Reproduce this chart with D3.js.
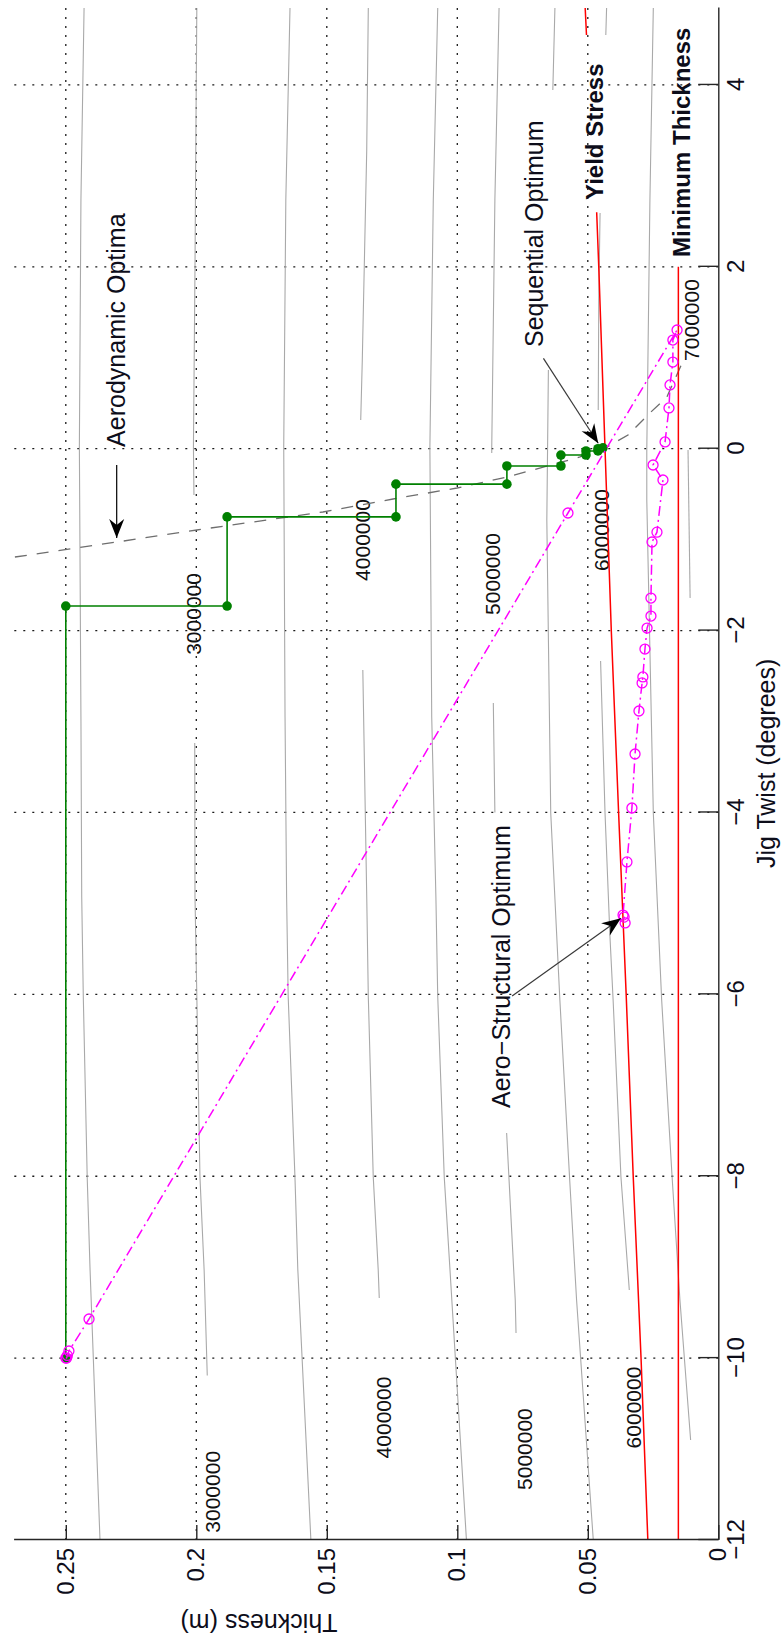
<!DOCTYPE html>
<html><head><meta charset="utf-8">
<script src="https://cdn.jsdelivr.net/npm/d3@7"></script>
<style>
html,body{margin:0;padding:0;background:#fff;}
svg{display:block;font-family:"Liberation Sans",Arial,Helvetica,sans-serif;}
</style></head><body>
<svg id="chart" width="783" height="1641"></svg>
<script>
// ---------- axis ticks ----------
const twistDomain = [-12, 4.846];
const thickDomain = [0, 0.27];
const twistTicks = [-12, -10, -8, -6, -4, -2, 0, 2, 4];
const twistTickLabels = ["\u221212", "\u221210", "\u22128", "\u22126", "\u22124", "\u22122", "0", "2", "4"];
const thickTicks = [0, 0.05, 0.1, 0.15, 0.2, 0.25];
const thickTickLabels = ["0", "0.05", "0.1", "0.15", "0.2", "0.25"];

// ---------- objective contours: [jig twist, thickness], null = break ----------
const contourA = [[4.846,0.2430],[2.735,0.2442],[0.019,0.2448],[-2.95,0.2442],[-4.93,0.2439],[-6.02,0.2433],[-8.01,0.2418],[-9.03,0.2407],[-12,0.2369]];
const contourB = [[4.846,0.1998],[3.285,0.2002],[1.998,0.2005],[0.019,0.2011],[-0.51,0.2009],null,[-3.236,0.2006],[-4.93,0.2005],[-6.02,0.1998],[-8.01,0.1986],[-9.03,0.1970],[-10.19,0.1958]];
const contourC = [[4.846,0.1641],[2.735,0.1657],[0.019,0.1665],[-2.95,0.1660],[-4.93,0.1654],[-6.02,0.1648],[-8.01,0.1622],[-9.03,0.1611],[-12,0.1561]];
const contourD = [[4.846,0.1341],[3.285,0.1347],[0.975,0.1364],[0.316,0.1370],null,[-2.433,0.1362],[-4.93,0.1347],[-6.02,0.1341],[-8.01,0.1322],[-9.03,0.1303],[-9.34,0.1299]];
const contourE = [[4.846,0.1075],[2.735,0.1092],[0.019,0.1105],[-2.95,0.1098],[-4.93,0.1082],[-6.02,0.1075],[-8.01,0.1050],[-9.03,0.1028],[-12,0.0965]];
const contourF = [[4.846,0.0840],[2.735,0.0856],[0.019,0.0868],[-0.047,0.0868],null,[-2.796,0.0862],[-4.0,0.0856],null,[-7.524,0.0811],[-9.361,0.0778],[-9.724,0.0775]];
const contourG = [[4.846,0.0626],[3.944,0.0634],null,[0.866,0.0651],[-0.784,0.0657],[-4.006,0.0642],[-6.062,0.0607],[-8.008,0.0570],[-9.361,0.0543],[-12,0.0479]];
const contourH = [[4.846,0.0428],[4.549,0.0431],null,[2.592,0.0453],[1.635,0.0458],[0.426,0.0460],null,[-2.334,0.0451],[-4.006,0.0434],[-5.369,0.0415],[-6.062,0.0403],[-8.008,0.0373],[-9.251,0.0341]];
const contourI = [[4.846,0.0249],[2.735,0.0262],[-0.014,0.0274],[-0.564,0.0274],[-4.006,0.0249],[-6.062,0.0217],[-8.008,0.0177],[-9.361,0.0147],[-10.900,0.0106]];
const contourJ = [[-0.014,0.0116],[-1.641,0.0108]];
const contourLabelText = ["3000000","3000000","4000000","4000000","5000000","5000000","6000000","6000000","7000000"];
const contourLabelTwist = [-1.817, -11.47, -1.004, -10.653, -1.378, -11.0, -0.894, -10.543, 1.415];
const contourLabelThick = [0.2011, 0.1938, 0.1364, 0.1284, 0.0865, 0.0741, 0.0449, 0.0325, 0.0103];

// ---------- constraints ----------
const yieldStress = [[-12,0.0270],[-10,0.0296],[-8,0.0326],[-6,0.0353],[-4,0.0382],[-2,0.0410],[0,0.0434],[2,0.0458],[2.6,0.0466],null,[4.55,0.0505],[4.846,0.0510]];
const minThickness = [[-12,0.0153],[2,0.0153]];

// ---------- aerodynamic optima (dashed) ----------
const aeroOptima = [[-1.191,0.2695],[-1.026,0.2304],[-0.894,0.1998],[-0.696,0.1515],[-0.553,0.1246],[-0.432,0.1001],[-0.311,0.0809],[-0.091,0.0530],[0.019,0.0426],[0.151,0.0346],[0.393,0.0262],[0.569,0.0197],[0.965,0.0135]];

// ---------- sequential optimisation path ----------
const seqTwist = [-10.0, -1.73, -1.73, -0.75, -0.75, -0.39, -0.39, -0.19, -0.19, -0.07, -0.07, -0.025, -0.025, 0.0, 0.01];
const seqThick = [0.2500, 0.2500, 0.1882, 0.1882, 0.1235, 0.1235, 0.0810, 0.0810, 0.0603, 0.0603, 0.0507, 0.0507, 0.0461, 0.0461, 0.0442];

// ---------- aero-structural optimisation path ----------
const asTwist = [-10.0, -10.0, -9.97, -9.922, -9.570, -0.707, 1.305, 1.195, 0.953, 0.701, 0.448, 0.074, -0.179, -0.344, -0.918, -1.026, -1.642, -1.840, -1.972, -2.203, -2.510, -2.576, -2.884, -3.357, -3.951, -4.544, -5.128, -5.15, -5.215];
const asThick = [0.2500, 0.2497, 0.2494, 0.2488, 0.2411, 0.0576, 0.0158, 0.0174, 0.0174, 0.0185, 0.0189, 0.0204, 0.0250, 0.0212, 0.0235, 0.0254, 0.0258, 0.0258, 0.0273, 0.0281, 0.0289, 0.0292, 0.0304, 0.0319, 0.0331, 0.0350, 0.0365, 0.0361, 0.0357];

// ---------- annotations ----------
const annoText = ["Aerodynamic Optima", "Sequential Optimum", "Aero\u2212Structural Optimum", "Yield Stress", "Minimum Thickness"];
const annoTwist = [0.02, 1.118, -7.25, 2.735, 2.108];
const annoThick = [0.2273, 0.0672, 0.0798, 0.0442, 0.0108];
const annoBold = [false, false, false, true, true];
const arrowFrom = [[-0.179,0.2305],[0.994,0.0670],[-6.018,0.0790]];
const arrowTo = [[-0.982,0.2305],[0.060,0.0460],[-5.164,0.0373]];

// =========================================================
const W = 1641, H = 783;   // inner (unrotated) frame
const svg = d3.select("#chart");
const defs = svg.append("defs");
defs.append("marker").attr("id","ah")
  .attr("viewBox","-20 -10 22 20").attr("refX",0).attr("refY",0)
  .attr("markerWidth",22).attr("markerHeight",20)
  .attr("markerUnits","userSpaceOnUse").attr("orient","auto")
  .append("path").attr("d","M0,0L-19,-7.5L-13,0L-19,7.5Z").attr("fill","#000");

const root = svg.append("g").attr("transform", `translate(0,${W}) rotate(-90)`);

const x = d3.scaleLinear().domain(twistDomain).range([101, 1633]);
const y = d3.scaleLinear().domain(thickDomain).range([718.3, 13.6]);

const line = d3.line().defined(d => d).x(d => x(d[0])).y(d => y(d[1]));

// grid
const grid = root.append("g").attr("stroke","#1a1a1a").attr("stroke-width",1.3).attr("stroke-dasharray","2,7");
grid.selectAll("line.gx").data(twistTicks.filter(d => d !== -12)).join("line")
  .attr("x1", d => x(d)).attr("x2", d => x(d)).attr("y1", y(thickDomain[0])).attr("y2", y(thickDomain[1]));
grid.selectAll("line.gy").data(thickTicks.filter(d => d !== 0)).join("line")
  .attr("x1", x(twistDomain[0])).attr("x2", x(twistDomain[1])).attr("y1", d => y(d)).attr("y2", d => y(d));

// contours
const contours = [contourA, contourB, contourC, contourD, contourE, contourF, contourG, contourH, contourI, contourJ];
root.append("g").selectAll("path").data(contours).join("path")
  .attr("d", line).attr("fill","none").attr("stroke","#a9a9a9").attr("stroke-width",1.1);
root.append("g").selectAll("text").data(contourLabelText).join("text")
  .attr("x", (d,i) => x(contourLabelTwist[i])).attr("y", (d,i) => y(contourLabelThick[i]))
  .attr("text-anchor","middle").attr("dominant-baseline","central")
  .attr("font-size",21).attr("fill","#111").text(d => d);

// aerodynamic optima dashed
root.append("path").attr("d", line(aeroOptima)).attr("fill","none")
  .attr("stroke","#6e6e6e").attr("stroke-width",1.3).attr("stroke-dasharray","12,10");

// constraints
root.append("path").attr("d", line(yieldStress)).attr("fill","none").attr("stroke","#ff0000").attr("stroke-width",1.5);
root.append("path").attr("d", line(minThickness)).attr("fill","none").attr("stroke","#ff0000").attr("stroke-width",1.5);

// sequential path
const seqPts = seqTwist.map((t,i) => [t, seqThick[i]]);
root.append("path").attr("d", line(seqPts)).attr("fill","none").attr("stroke","#008000").attr("stroke-width",1.6);
root.append("g").selectAll("circle").data(seqPts).join("circle")
  .attr("cx", d => x(d[0])).attr("cy", d => y(d[1])).attr("r",4.8).attr("fill","#008000");

// aero-structural path
const asPts = asTwist.map((t,i) => [t, asThick[i]]);
root.append("path").attr("d", line(asPts)).attr("fill","none").attr("stroke","#ff00ff")
  .attr("stroke-width",1.5).attr("stroke-dasharray","10,4,2,4");
root.append("g").selectAll("circle").data(asPts).join("circle")
  .attr("cx", d => x(d[0])).attr("cy", d => y(d[1])).attr("r",5).attr("fill","none")
  .attr("stroke","#ff00ff").attr("stroke-width",1.3);

// arrows
root.append("g").selectAll("line").data(arrowFrom).join("line")
  .attr("x1", d => x(d[0])).attr("y1", d => y(d[1]))
  .attr("x2", (d,i) => x(arrowTo[i][0])).attr("y2", (d,i) => y(arrowTo[i][1]))
  .attr("stroke", (d,i) => i === 0 ? "#000" : "#3a3a3a").attr("stroke-width",1.2)
  .attr("marker-end","url(#ah)");

// annotation texts
root.append("g").selectAll("text").data(annoText).join("text")
  .attr("x", (d,i) => x(annoTwist[i])).attr("y", (d,i) => y(annoThick[i]))
  .attr("font-size", (d,i) => annoBold[i] ? 24 : 25)
  .attr("font-weight", (d,i) => annoBold[i] ? "bold" : "normal")
  .attr("fill","#0d0d1a").text(d => d);

// axes
const xAxis = d3.axisBottom(x).tickValues(twistTicks).tickFormat((d,i) => twistTickLabels[i])
  .tickSizeInner(-20).tickSizeOuter(0).tickPadding(9);
const gx = root.append("g").attr("transform", `translate(0,${y(0)})`).call(xAxis);
const yAxis = d3.axisLeft(y).tickValues(thickTicks).tickFormat((d,i) => thickTickLabels[i])
  .tickSizeInner(-15).tickSizeOuter(0).tickPadding(8);
const gy = root.append("g").attr("transform", `translate(${x(twistDomain[0])},0)`).call(yAxis);
[gx, gy].forEach(g => {
  g.attr("font-size",24).attr("font-family",'"Liberation Sans",Arial,Helvetica,sans-serif');
  g.selectAll("path.domain").attr("stroke","#262626").attr("stroke-width",1.4);
  g.selectAll(".tick line").attr("stroke","#262626").attr("stroke-width",1.4);
  g.selectAll(".tick text").attr("fill","#0d0d1a");
});

// axis labels
root.append("text").attr("x", x(-3.46)).attr("y", 775)
  .attr("text-anchor","middle").attr("font-size",25).attr("fill","#0d0d1a").text("Jig Twist (degrees)");
root.append("text").attr("transform", `translate(27,${y(0.176)}) rotate(-90)`)
  .attr("text-anchor","middle").attr("font-size",25).attr("fill","#0d0d1a").text("Thickness (m)");
</script>
</body></html>
